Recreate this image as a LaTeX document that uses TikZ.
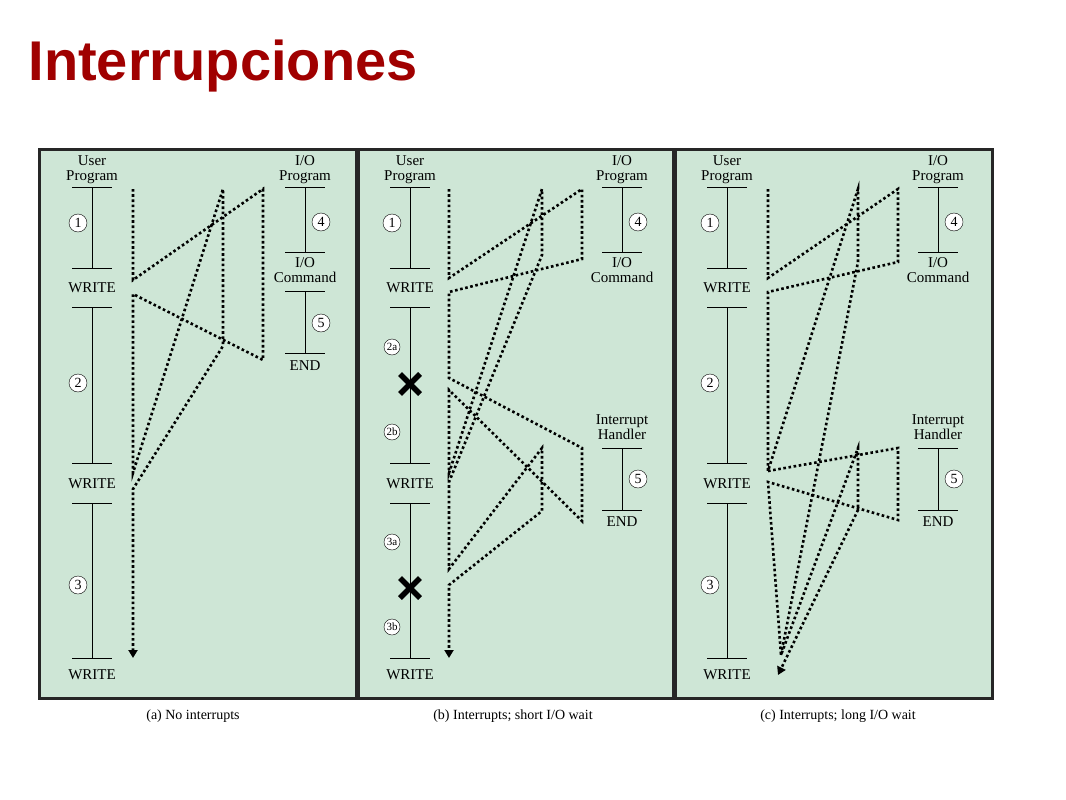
\documentclass[tikz,border=0pt]{standalone}
\usepackage{fontspec}
\setmainfont{Liberation Serif}
\newfontfamily\titlefont{Liberation Sans}
\usetikzlibrary{arrows.meta}
\definecolor{panelgreen}{RGB}{206,230,214}
\definecolor{titlered}{RGB}{160,0,0}
\tikzset{
  lbl/.style={font=\fontsize{15}{15}\selectfont, inner sep=0pt, align=center},
  num/.style={circle, draw, fill=white, inner sep=0pt, minimum size=18pt, font=\fontsize{14}{14}\selectfont},
  sub/.style={num, minimum size=16pt, font=\fontsize{11}{11}\selectfont},
  trace/.style={line width=2.6pt, dash pattern=on 2.6pt off 2.6pt},
  tick/.style={line width=0.9pt},
  xmark/.style={line width=5.5pt}
}
\begin{document}
\begin{tikzpicture}[x=1pt, y=-1pt]
  \useasboundingbox (0,0) rectangle (1066,800);
  \node[anchor=west, font=\titlefont\bfseries\fontsize{56}{60}\selectfont, text=titlered] (title) at (25,66) {Interrupciones};

  % panels
  \fill[black!85] (38,148) rectangle (994,700);
  \foreach \x/\w in {41/314, 360/312, 677/314} {
    \fill[panelgreen] (\x,151) rectangle ++(\w,546);
  }

  % user programs
  \foreach \p/\ux in {a/92, b/410, c/727} {
    \node[lbl] (user\p) at (\ux,170) {User\\Program};
    \foreach \t/\b [count=\i] in {187/268, 307/463, 503/658} {
      \draw[tick] (\ux-20,\t) -- (\ux+20,\t);
      \draw[tick] (\ux,\t) -- (\ux,\b);
      \draw[tick] (\ux-20,\b) -- (\ux+20,\b);
    }
    \node[lbl] (w1\p) at (\ux,288) {WRITE};
    \node[lbl] (w2\p) at (\ux,484) {WRITE};
    \node[lbl] (w3\p) at (\ux,675) {WRITE};
  }
  \node[num] at (78,223) {1};
  \node[num] at (78,383) {2};
  \node[num] at (78,585) {3};
  \node[num] at (710,223) {1};
  \node[num] at (710,383) {2};
  \node[num] at (710,585) {3};
  \node[num] at (392,223) {1};
  \node[sub] at (392,347) {2a};
  \node[sub] at (392,432) {2b};
  \node[sub] at (392,542) {3a};
  \node[sub] at (392,627) {3b};
  \foreach \y in {384, 588} {
    \draw[xmark] (400,\y-10) -- (420,\y+10);
    \draw[xmark] (400,\y+10) -- (420,\y-10);
  }

  % I/O programs
  \foreach \p/\ix in {a/305, b/622, c/938} {
    \node[lbl] (io\p) at (\ix,170) {I/O\\Program};
    \draw[tick] (\ix-20,187) -- (\ix+20,187);
    \draw[tick] (\ix,187) -- (\ix,252);
    \draw[tick] (\ix-20,252) -- (\ix+20,252);
    \node[lbl] (cmd\p) at (\ix,270) {I/O\\Command};
    \node[num] at (\ix+16,222) {4};
  }
  \draw[tick] (285,291) -- (325,291);
  \draw[tick] (305,291) -- (305,353);
  \draw[tick] (285,353) -- (325,353);
  \node[num] at (321,323) {5};
  \node[lbl] (enda) at (305,366) {END};
  \foreach \p/\ix in {b/622, c/938} {
    \node[lbl] (ih\p) at (\ix,427) {Interrupt\\Handler};
    \draw[tick] (\ix-20,448) -- (\ix+20,448);
    \draw[tick] (\ix,448) -- (\ix,510);
    \draw[tick] (\ix-20,510) -- (\ix+20,510);
    \node[num] at (\ix+16,479) {5};
    \node[lbl] (end\p) at (\ix,522) {END};
  }

  % (a) traces
  \coordinate (a1) at (133,189); \coordinate (a2) at (133,280);
  \coordinate (a3) at (263,189); \coordinate (a4) at (263,360);
  \coordinate (a5) at (133,294); \coordinate (a6) at (133,473);
  \coordinate (a7) at (223,189); \coordinate (a8) at (223,346);
  \coordinate (a9) at (133,489); \coordinate (a10) at (133,658);
  \draw[trace, -{Triangle[length=8pt,width=9pt]}] (a1) -- (a2) -- (a3) -- (a4) -- (a5) -- (a6) -- (a7) -- (a8) -- (a9) -- (a10);

  % (b) traces
  \coordinate (b1) at (449,189); \coordinate (b2) at (449,278);
  \coordinate (b3) at (582,189); \coordinate (b4) at (582,259);
  \coordinate (b5) at (449,292); \coordinate (b6) at (449,378);
  \coordinate (b7) at (582,448); \coordinate (b8) at (582,521);
  \coordinate (b9) at (449,390); \coordinate (b10) at (449,473);
  \coordinate (b11) at (542,189); \coordinate (b12) at (542,255);
  \coordinate (b13) at (449,482); \coordinate (b14) at (449,569);
  \coordinate (b15) at (542,448); \coordinate (b16) at (542,511);
  \coordinate (b17) at (449,585); \coordinate (b18) at (449,658);
  \draw[trace, -{Triangle[length=8pt,width=9pt]}] (b1) -- (b2) -- (b3) -- (b4) -- (b5) -- (b6) -- (b7) -- (b8) -- (b9) -- (b10) -- (b11) -- (b12) -- (b13) -- (b14) -- (b15) -- (b16) -- (b17) -- (b18);

  % (c) traces
  \coordinate (c1) at (768,189); \coordinate (c2) at (768,278);
  \coordinate (c3) at (898,189); \coordinate (c4) at (898,262);
  \coordinate (c5) at (768,292); \coordinate (c6) at (768,471);
  \coordinate (c7) at (858,189); \coordinate (c8) at (858,262);
  \coordinate (c9) at (781,655);
  \coordinate (c10) at (898,448); \coordinate (c11) at (898,520);
  \coordinate (c12) at (768,482); \coordinate (c13) at (858,448);
  \coordinate (c14) at (858,510); \coordinate (c15) at (778,675);
  \draw[trace] (c1) -- (c2) -- (c3) -- (c4) -- (c5) -- (c6) -- (c7) -- (c8) -- (c9);
  \draw[trace, -{Triangle[length=8pt,width=9pt]}] (c6) -- (c10) -- (c11) -- (c12) -- (c9) -- (c13) -- (c14) -- (c15);

  % captions
  \node[lbl, font=\fontsize{14}{14}\selectfont] (capa) at (193,716) {(a) No interrupts};
  \node[lbl, font=\fontsize{14}{14}\selectfont] (capb) at (513,716) {(b) Interrupts; short I/O wait};
  \node[lbl, font=\fontsize{14}{14}\selectfont] (capc) at (838,716) {(c) Interrupts; long I/O wait};
\end{tikzpicture}
\end{document}
